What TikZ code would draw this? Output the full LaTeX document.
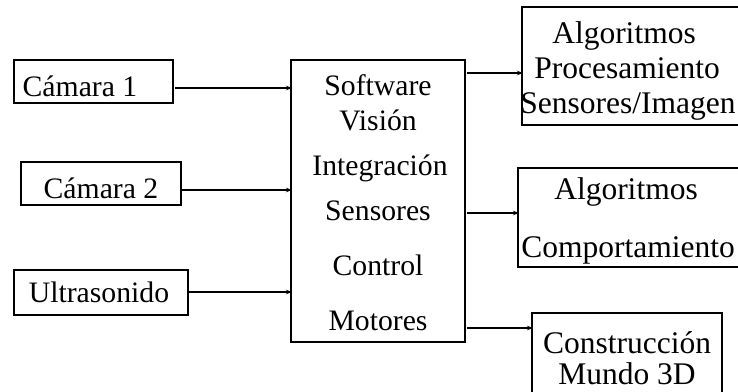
\documentclass[tikz,border=0pt]{standalone}
\usepackage{fontspec}
\setmainfont{Liberation Serif}
\usetikzlibrary{arrows.meta}
\tikzset{
  blk/.style={draw=black, line width=2pt, inner sep=0pt, outer sep=0pt},
  lbl/.style={anchor=base, inner sep=0pt, font=\fontsize{29.7}{35}\selectfont},
  rlbl/.style={lbl, font=\fontsize{31.5}{37}\selectfont},
  arr/.style={line width=1.6pt, -{Stealth[length=6pt,width=4.5pt]}, shorten >=-1pt}
}
\begin{document}
\begin{tikzpicture}[x=1pt, y=-1pt]
\clip (0,0) rectangle (738,391);
\fill[white] (0,0) rectangle (738,391);

% input blocks
\node[blk, minimum width=159pt, minimum height=43pt] (cam1) at (93.5,81.5) {};
\node[blk, minimum width=160pt, minimum height=43pt] (cam2) at (101,183.5) {};
\node[blk, minimum width=174pt, minimum height=45pt] (ultra) at (101,292.5) {};
\node[lbl] (tcam1) at (80,96) {Cámara 1};
\node[lbl] (tcam2) at (101,198) {Cámara 2};
\node[lbl] (tultra) at (99,302) {Ultrasonido};

% central software block
\node[blk, minimum width=174pt, minimum height=282pt] (sw) at (378,201) {};
\node[lbl] (t1) at (378,95) {Software};
\node[lbl] (t2) at (378,130) {Visión};
\node[lbl] (t3) at (380,175) {Integración};
\node[lbl] (t4) at (378,220) {Sensores};
\node[lbl] (t5) at (378,275) {Control};
\node[lbl] (t6) at (378,330) {Motores};

% output blocks
\node[blk, minimum width=240pt, minimum height=118pt] (alg1) at (642,66) {};
\node[blk, minimum width=244pt, minimum height=99pt] (alg2) at (640,217.5) {};
\node[blk, minimum width=190pt, minimum height=100pt] (mundo) at (627,363) {};
\node[rlbl] (a1) at (624,43) {Algoritmos};
\node[rlbl] (a2) at (627,78) {Procesamiento};
\node[rlbl] (a3) at (628,113) {Sensores/Imagen};
\node[rlbl] (b1) at (626,199) {Algoritmos};
\node[rlbl] (b2) at (628,257) {Comportamiento};
\node[rlbl] (c1) at (627,353) {Construcción};
\node[rlbl] (c2) at (627,384) {Mundo 3D};

% attachment points on the output blocks
\coordinate (o1) at (alg1.west |- 0,73);
\coordinate (o2) at (alg2.west |- 0,213);
\coordinate (o3) at (mundo.west |- 0,328);

% connectors
\draw[arr] ([xshift=2pt]cam1.east |- 0,88) -- (sw.west |- 0,88);
\draw[arr] (cam2.east |- 0,190) -- (sw.west |- 0,190);
\draw[arr] (ultra.east |- 0,292) -- (sw.west |- 0,292);
\draw[arr] ([xshift=2pt]sw.east |- o1) -- (o1);
\draw[arr] ([xshift=2pt]sw.east |- o2) -- (o2);
\draw[arr] ([xshift=2pt]sw.east |- o3) -- (o3);
\end{tikzpicture}
\end{document}
